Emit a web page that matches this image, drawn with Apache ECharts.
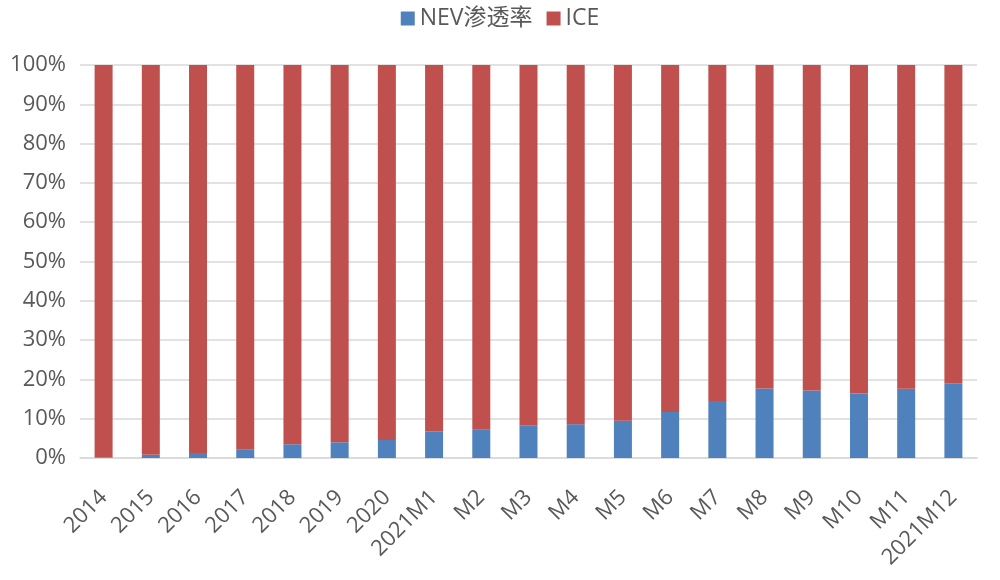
<!DOCTYPE html>
<html><head><meta charset="utf-8">
<script src="https://cdn.jsdelivr.net/npm/echarts@6/dist/echarts.min.js"></script>
<style>html,body{margin:0;padding:0;background:#fff}#c{width:1000px;height:580px}</style>
</head><body><div id="c"></div>
<script>
const categories = ['2014','2015','2016','2017','2018','2019','2020','2021M1','M2','M3','M4','M5','M6','M7','M8','M9','M10','M11','2021M12'];
const nev = [0.1, 0.8, 1.3, 2.1, 3.5, 4.0, 4.6, 6.8, 7.2, 8.3, 8.6, 9.5, 11.7, 14.5, 17.7, 17.2, 16.4, 17.6, 19.0];
const ice = [99.9, 99.2, 98.7, 97.9, 96.5, 96.0, 95.4, 93.2, 92.8, 91.7, 91.4, 90.5, 88.3, 85.5, 82.3, 82.8, 83.6, 82.4, 81.0];
const yTicks = [0, 10, 20, 30, 40, 50, 60, 70, 80, 90, 100];

const chart = echarts.init(document.getElementById('c'), null, {renderer: 'canvas'});
const font = '"Open Sans", "Noto Sans CJK SC", sans-serif';
chart.setOption({
  animation: false,
  textStyle: {fontFamily: font},
  legend: {
    top: 2, left: 'center', itemWidth: 14, itemHeight: 14, itemGap: 14,
    icon: 'rect',
    textStyle: {fontSize: 23, color: '#595959', fontFamily: font},
    data: ['NEV渗透率', 'ICE']
  },
  grid: {left: 80, right: 23, top: 65, bottom: 122, containLabel: false},
  xAxis: {
    type: 'category', data: categories,
    axisLine: {lineStyle: {color: '#d9d9d9', width: 1.5}},
    axisTick: {show: false},
    axisLabel: {rotate: 45, fontSize: 22, color: '#595959', margin: 36, interval: 0, fontFamily: font}
  },
  yAxis: {
    type: 'value', min: yTicks[0], max: yTicks[yTicks.length - 1], interval: 10,
    axisLine: {show: false}, axisTick: {show: false},
    splitLine: {lineStyle: {color: '#d9d9d9', width: 1.5}},
    axisLabel: {formatter: v => v + '%', fontSize: 22, color: '#595959', margin: 14, fontFamily: font}
  },
  series: [
    {name: 'NEV渗透率', type: 'bar', stack: 'a', data: nev, barWidth: 18, itemStyle: {color: '#4F81BD'}},
    {name: 'ICE', type: 'bar', stack: 'a', data: ice, barWidth: 18, itemStyle: {color: '#C0504D'}}
  ]
});
</script></body></html>
